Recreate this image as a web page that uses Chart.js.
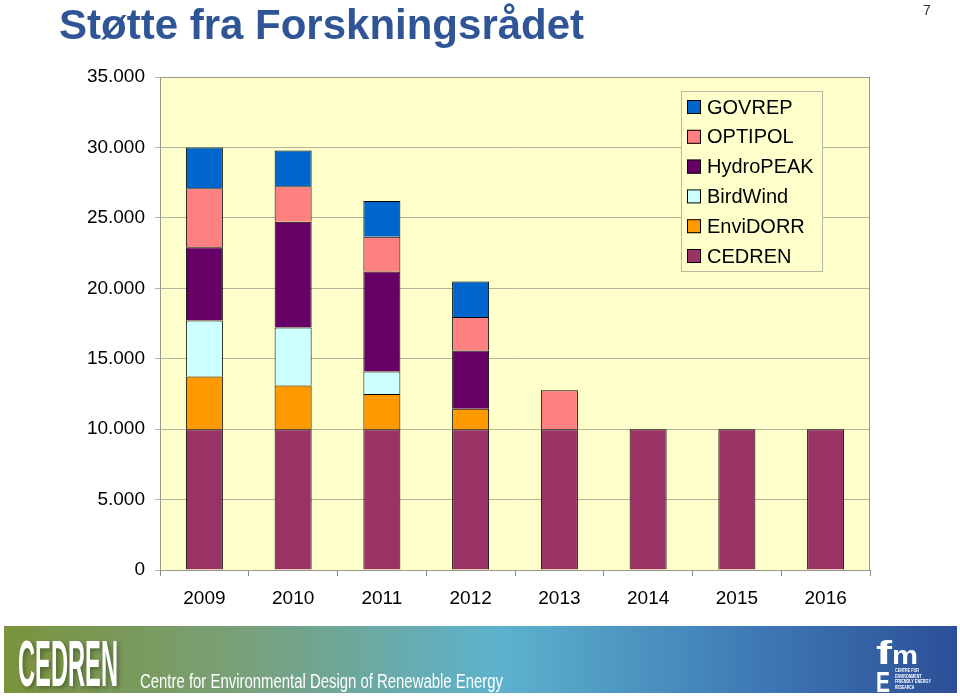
<!DOCTYPE html>
<html>
<head>
<meta charset="utf-8">
<script src="https://cdn.jsdelivr.net/npm/chart.js@4/dist/chart.umd.min.js"></script>
<style>
  html, body { margin: 0; padding: 0; background: #fff; }
  body { width: 960px; height: 696px; position: relative; overflow: hidden; font-family: "Liberation Sans", Arial, sans-serif; }
  #title { position: absolute; left: 59px; top: 0px; font-size: 42px; font-weight: bold; color: #2f5597; line-height: 50px; }
  #pageno { position: absolute; left: 923px; top: 2px; font-size: 14px; color: #333; }
  #chartWrap { position: absolute; left: 0; top: 0; width: 960px; height: 620px; }
  #footer { position: absolute; left: 0; top: 620px; }
</style>
</head>
<body>
<div id="chartWrap"><canvas id="fundingChart"></canvas></div>
<div id="title">Støtte fra Forskningsrådet</div>
<div id="pageno">7</div>
<canvas id="footer" width="960" height="76"></canvas>
<script>
// --- Data ---
const years = ["2009", "2010", "2011", "2012", "2013", "2014", "2015", "2016"];
const cedren    = [10000, 10000, 10000, 10000, 10000, 10000, 10000, 10000];
const envidorr  = [3740, 3100, 2490, 1440, 0, 0, 0, 0];
const birdwind  = [3980, 4120, 1600, 0, 0, 0, 0, 0];
const hydropeak = [5190, 7510, 7110, 4150, 0, 0, 0, 0];
const optipol   = [4190, 2510, 2450, 2370, 2770, 0, 0, 0];
const govrep    = [2900, 2540, 2550, 2530, 0, 0, 0, 0];
const yTicks = [0, 5000, 10000, 15000, 20000, 25000, 30000, 35000];

function fmt(v) {
    if (v === 0) return '0';
    const s = String(v);
    return s.slice(0, s.length - 3) + '.' + s.slice(-3);
}

// plot background + border
const plotBg = {
    id: 'plotBg',
    beforeDraw(chart) {
        const { ctx, chartArea: a } = chart;
        ctx.save();
        ctx.fillStyle = '#ffffcc';
        ctx.fillRect(a.left, a.top, a.right - a.left, a.bottom - a.top);
        ctx.restore();
    },
    afterDraw(chart) {
        const { ctx, chartArea: a } = chart;
        ctx.save();
        ctx.strokeStyle = '#9a9a8a';
        ctx.lineWidth = 1;
        ctx.strokeRect(a.left + 0.5, a.top + 0.5, a.right - a.left - 1, a.bottom - a.top);
        ctx.restore();
    }
};

// legend boxed inside the plot, top right
const boxLegend = {
    id: 'boxLegend',
    afterDraw(chart) {
        const { ctx, chartArea: a } = chart;
        const w = 141, h = 180;
        const x = a.right - 48 - w, y = a.top + 14;
        ctx.save();
        ctx.fillStyle = '#ffffcc';
        ctx.fillRect(x, y, w, h);
        ctx.strokeStyle = '#b8b8a8';
        ctx.lineWidth = 1;
        ctx.strokeRect(x + 0.5, y + 0.5, w, h);
        ctx.font = '20px "Liberation Sans", Arial, sans-serif';
        ctx.textBaseline = 'middle';
        const sets = chart.data.datasets.slice().reverse();
        sets.forEach((ds, i) => {
            const cy = y + 16 + i * 29.8;
            ctx.fillStyle = ds.backgroundColor;
            ctx.fillRect(x + 6, cy - 7, 14, 14);
            ctx.strokeStyle = '#000';
            ctx.strokeRect(x + 6.5, cy - 6.5, 13, 13);
            ctx.fillStyle = '#000';
            ctx.fillText(ds.label, x + 26, cy + 1);
        });
        ctx.restore();
    }
};

const ctx = document.getElementById('fundingChart').getContext('2d');
const barStyle = { borderColor: '#000', borderWidth: 1, barPercentage: 0.417, categoryPercentage: 1.0 };
const chart = new Chart(ctx, {
    type: 'bar',
    data: {
        labels: years,
        datasets: [
            { label: 'CEDREN',    data: cedren,    backgroundColor: '#993366', ...barStyle },
            { label: 'EnviDORR',  data: envidorr,  backgroundColor: '#ff9900', ...barStyle },
            { label: 'BirdWind',  data: birdwind,  backgroundColor: '#ccffff', ...barStyle },
            { label: 'HydroPEAK', data: hydropeak, backgroundColor: '#660066', ...barStyle },
            { label: 'OPTIPOL',   data: optipol,   backgroundColor: '#ff8080', ...barStyle },
            { label: 'GOVREP',    data: govrep,    backgroundColor: '#0066cc', ...barStyle }
        ]
    },
    options: {
        responsive: true,
        maintainAspectRatio: false,
        animation: false,
        layout: { padding: { top: 77, right: 90, left: 0, bottom: 0 } },
        plugins: {
            legend: { display: false },
            tooltip: { enabled: false }
        },
        scales: {
            x: {
                stacked: true,
                afterFit(scale) { scale.height = 50; },
                grid: { display: true, drawOnChartArea: false, offset: true, tickLength: 6, color: '#8a8a8a' },
                border: { color: '#8a8a8a' },
                ticks: { color: '#000', padding: 11, font: { size: 19, family: '"Liberation Sans", Arial, sans-serif' } }
            },
            y: {
                stacked: true,
                min: 0,
                max: 35000,
                afterFit(scale) { scale.width = 160; },
                afterBuildTicks(scale) { scale.ticks = yTicks.map(v => ({ value: v })); },
                grid: { color: '#b4b49a', tickLength: 5, drawTicks: true },
                border: { color: '#8a8a8a' },
                ticks: {
                    color: '#000',
                    padding: 10,
                    font: { size: 19, family: '"Liberation Sans", Arial, sans-serif' },
                    callback: v => fmt(v)
                }
            }
        }
    },
    plugins: [plotBg, boxLegend]
});

// --- footer banner ---
(function drawFooter() {
    const c = document.getElementById('footer').getContext('2d');
    const g = c.createLinearGradient(4, 0, 957, 0);
    g.addColorStop(0, '#7a933c');
    g.addColorStop(0.25, '#79a07a');
    g.addColorStop(0.52, '#5db2cd');
    g.addColorStop(0.78, '#3f7bb6');
    g.addColorStop(1, '#2c4f98');
    c.fillStyle = g;
    c.fillRect(4, 6, 953, 67);

    function fitText(txt, font, x, baseline, width, sy) {
        c.save();
        c.font = font;
        const m = c.measureText(txt).width;
        c.translate(x, baseline);
        c.scale(width / m, sy);
        c.fillText(txt, 0, 0);
        c.restore();
    }
    c.fillStyle = '#ffffff';
    c.shadowColor = 'rgba(0,0,0,0.35)';
    c.shadowBlur = 4;
    c.shadowOffsetX = 2;
    c.shadowOffsetY = 2;
    fitText('CEDREN', 'bold 46px "Liberation Sans Narrow", "Liberation Sans", sans-serif', 18, 66, 100, 1.4);
    c.shadowColor = 'transparent';
    fitText('Centre for Environmental Design of Renewable Energy', '20px "Liberation Sans Narrow", "Liberation Sans", sans-serif', 140, 68, 363, 1.0);

    // fme logo (rough)
    c.fillStyle = '#ffffff';
    fitText('f', 'bold 34px "Liberation Sans", sans-serif', 876, 44, 16, 1.0);
    fitText('m', 'bold 26px "Liberation Sans", sans-serif', 892, 44, 26, 1.0);
    fitText('E', 'bold 30px "Liberation Sans", sans-serif', 876, 72, 14, 1.0);
    const small = ['CENTRE FOR', 'ENVIRONMENT', 'FRIENDLY ENERGY', 'RESEARCH'];
    small.forEach((s, i) => fitText(s, 'bold 5px "Liberation Sans", sans-serif', 895, 52 + i * 5.5, s.length * 2.4, 1.0));
})();
</script>
</body>
</html>
